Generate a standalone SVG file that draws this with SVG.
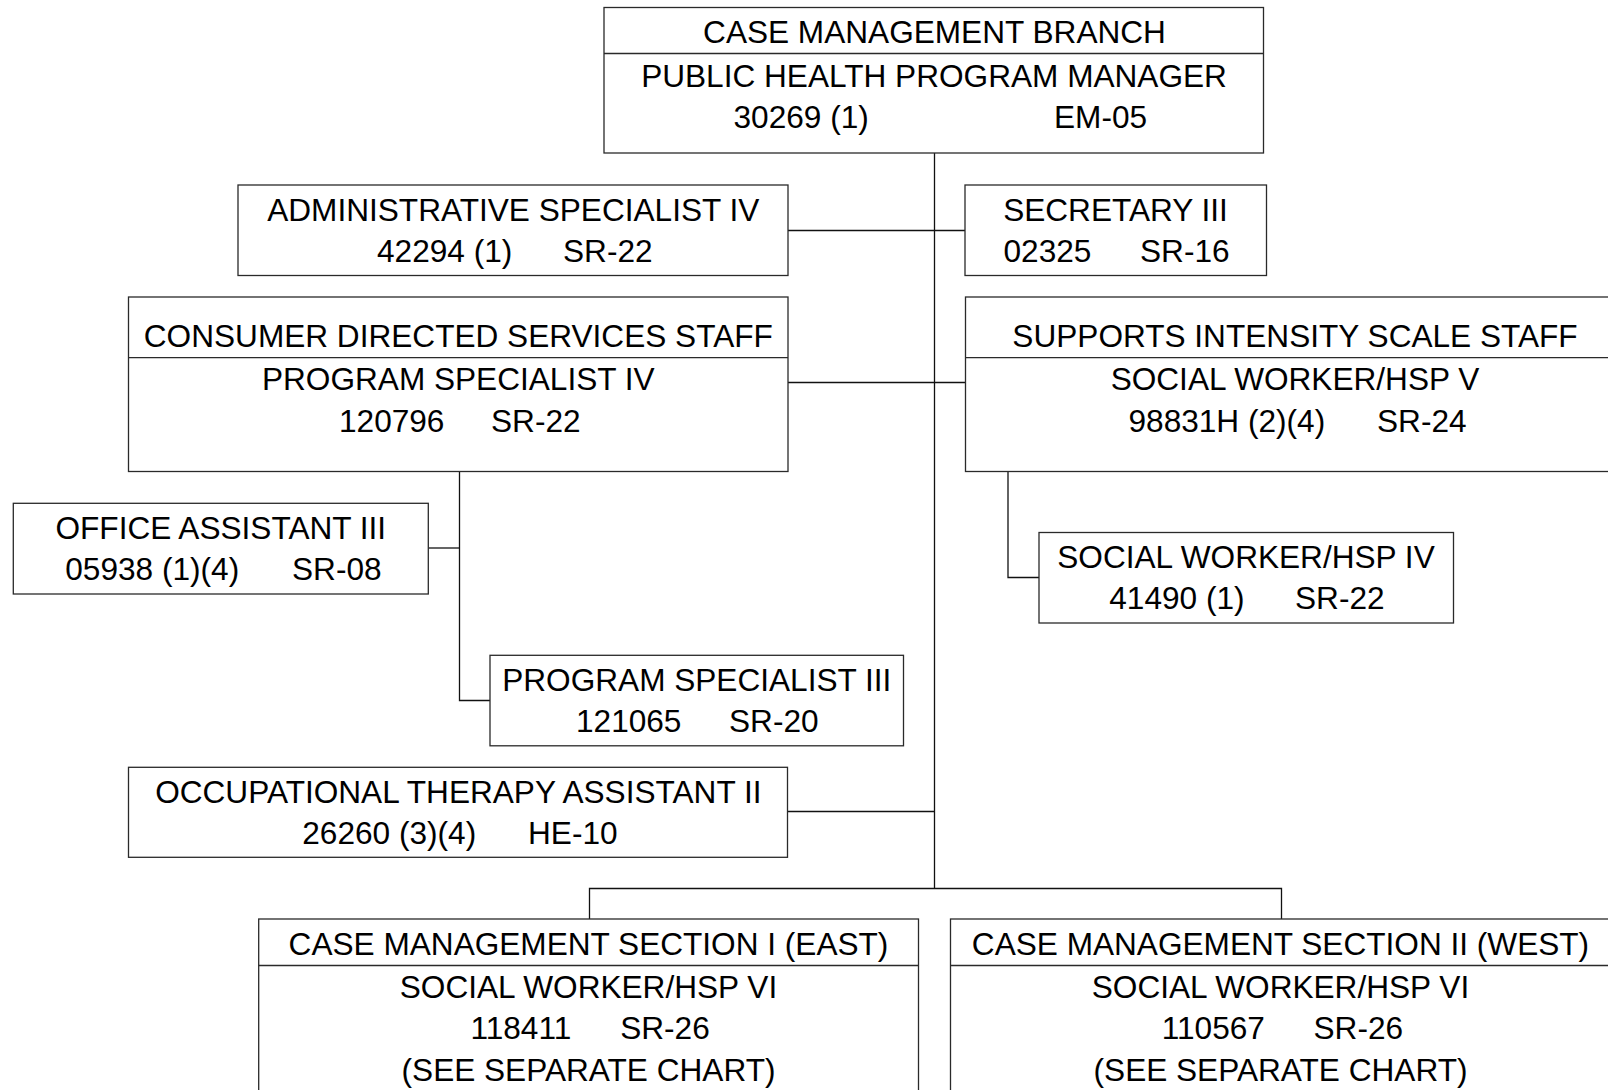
<svg xmlns="http://www.w3.org/2000/svg" width="1608" height="1090" viewBox="0 0 1608 1090">
<style>
.box{fill:#fff;stroke:#2a2a2a;stroke-width:1.3}
.div{stroke:#2a2a2a;stroke-width:1.3}
.con{fill:none;stroke:#111;stroke-width:1.3}
text{font-family:"Liberation Sans",Arial,sans-serif;font-size:31.6px;fill:#000}
.c{text-anchor:middle}
</style>
<rect width="1608" height="1090" fill="#fff"/>
<g id="connectors">
<path class="con" d="M934.5 153 V888.5"/>
<path class="con" d="M788 230.5 H965"/>
<path class="con" d="M788 382.5 H965.5"/>
<path class="con" d="M787.5 811.5 H934.5"/>
<path class="con" d="M589.5 919 V888.5 H1281.5 V919"/>
<path class="con" d="M459.5 471.5 V700.5 H490"/>
<path class="con" d="M428.5 548 H459.5"/>
<path class="con" d="M1008 471.5 V577.5 H1039"/>
</g>
<g id="case-management-branch">
<rect class="box" x="604" y="7.5" width="659.5" height="145.5"/>
<line class="div" x1="604" y1="53.5" x2="1263.5" y2="53.5"/>
<text class="c" x="934.5" y="43.3">CASE MANAGEMENT BRANCH</text>
<text class="c" x="934" y="87.3">PUBLIC HEALTH PROGRAM MANAGER</text>
<text x="733.5" y="128">30269 (1)</text>
<text x="1054" y="128">EM-05</text>
</g>
<g id="admin-specialist">
<rect class="box" x="238" y="185" width="550" height="90.5"/>
<text class="c" x="513.3" y="220.7">ADMINISTRATIVE SPECIALIST IV</text>
<text x="377" y="261.7">42294 (1)</text>
<text x="563" y="261.7">SR-22</text>
</g>
<g id="secretary">
<rect class="box" x="965" y="185" width="301.5" height="90.5"/>
<text class="c" x="1115.5" y="220.7">SECRETARY III</text>
<text x="1003.5" y="261.7">02325</text>
<text x="1140" y="261.7">SR-16</text>
</g>
<g id="consumer-directed">
<rect class="box" x="128.5" y="297" width="659.5" height="174.5"/>
<line class="div" x1="128.5" y1="357.7" x2="788" y2="357.7"/>
<text class="c" x="458.3" y="346.5">CONSUMER DIRECTED SERVICES STAFF</text>
<text class="c" x="458.3" y="389.8">PROGRAM SPECIALIST IV</text>
<text x="339" y="431.8">120796</text>
<text x="491" y="431.8">SR-22</text>
</g>
<g id="supports-intensity">
<rect class="box" x="965.5" y="297" width="660" height="174.5"/>
<line class="div" x1="965.5" y1="357.7" x2="1625" y2="357.7"/>
<text class="c" x="1295" y="346.5">SUPPORTS INTENSITY SCALE STAFF</text>
<text class="c" x="1295" y="389.8">SOCIAL WORKER/HSP V</text>
<text x="1128.5" y="431.8">98831H (2)(4)</text>
<text x="1377" y="431.8">SR-24</text>
</g>
<g id="office-assistant">
<rect class="box" x="13.3" y="503.3" width="415" height="90.7"/>
<text class="c" x="220.8" y="539">OFFICE ASSISTANT III</text>
<text x="65.3" y="580">05938 (1)(4)</text>
<text x="292" y="580">SR-08</text>
</g>
<g id="social-worker-iv">
<rect class="box" x="1039" y="532.5" width="414.5" height="90.5"/>
<text class="c" x="1246" y="568.3">SOCIAL WORKER/HSP IV</text>
<text x="1109.3" y="609.3">41490 (1)</text>
<text x="1295" y="609.3">SR-22</text>
</g>
<g id="program-specialist-iii">
<rect class="box" x="490" y="655.3" width="413.5" height="90.5"/>
<text class="c" x="696.8" y="691">PROGRAM SPECIALIST III</text>
<text x="576" y="732">121065</text>
<text x="729" y="732">SR-20</text>
</g>
<g id="occupational-therapy">
<rect class="box" x="128.5" y="767.3" width="659" height="90"/>
<text class="c" x="458.3" y="803">OCCUPATIONAL THERAPY ASSISTANT II</text>
<text x="302.3" y="844">26260 (3)(4)</text>
<text x="528" y="844">HE-10</text>
</g>
<g id="section-east">
<rect class="box" x="258.7" y="919" width="659.8" height="190"/>
<line class="div" x1="258.7" y1="965.5" x2="918.5" y2="965.5"/>
<text class="c" x="588.5" y="955">CASE MANAGEMENT SECTION I (EAST)</text>
<text class="c" x="588.5" y="998">SOCIAL WORKER/HSP VI</text>
<text x="470.5" y="1039">118411</text>
<text x="620.2" y="1039">SR-26</text>
<text class="c" x="588.5" y="1081">(SEE SEPARATE CHART)</text>
</g>
<g id="section-west">
<rect class="box" x="950.5" y="919" width="662" height="190"/>
<line class="div" x1="950.5" y1="965.5" x2="1612.5" y2="965.5"/>
<text class="c" x="1280.5" y="955">CASE MANAGEMENT SECTION II (WEST)</text>
<text class="c" x="1280.5" y="998">SOCIAL WORKER/HSP VI</text>
<text x="1161.8" y="1039">110567</text>
<text x="1313.5" y="1039">SR-26</text>
<text class="c" x="1280.5" y="1081">(SEE SEPARATE CHART)</text>
</g>
</svg>
